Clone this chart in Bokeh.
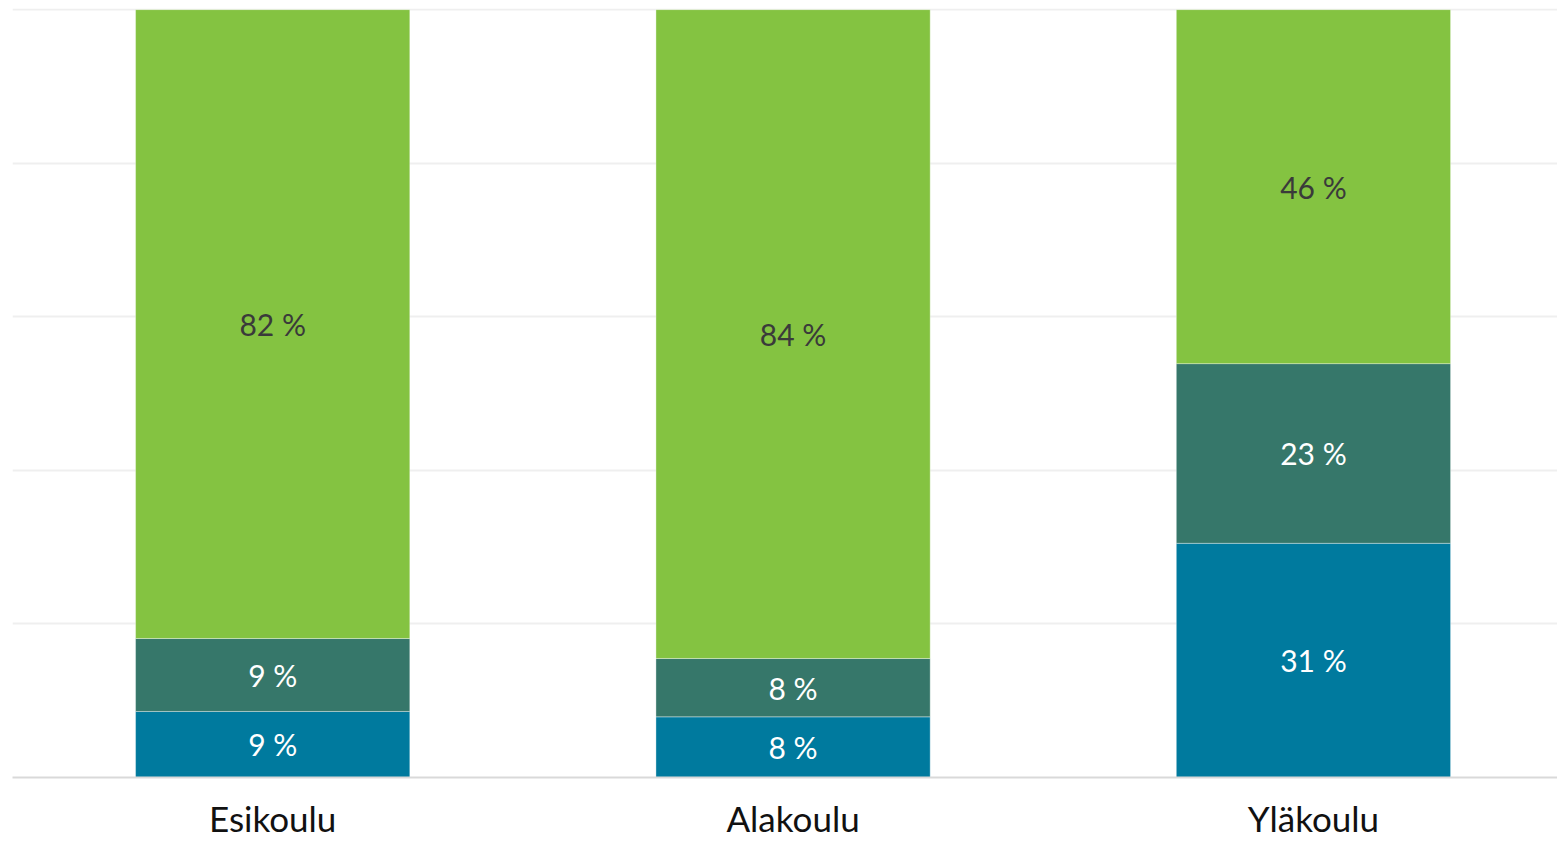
from bokeh.plotting import figure
from bokeh.models import ColumnDataSource, Range1d, FixedTicker
from bokeh.core.properties import value
from bokeh.embed import file_html
from bokeh.resources import INLINE

categories = ["Esikoulu", "Alakoulu", "Yläkoulu"]
series_names = ["s1", "s2", "s3"]
s1 = [8.6, 7.9, 30.5]
s2 = [9.5, 7.6, 23.4]
s3 = [81.9, 84.5, 46.1]
s1_labels = ["9 %", "8 %", "31 %"]
s2_labels = ["9 %", "8 %", "23 %"]
s3_labels = ["82 %", "84 %", "46 %"]
colors = ["#007A9E", "#36776A", "#84C341"]
text_colors = ["#FFFFFF", "#FFFFFF", "#3A3A3A"]

xs = list(range(len(categories)))
FONT = "Lato"

p = figure(width=1557, height=841, output_backend="svg", toolbar_location=None,
           x_range=Range1d(-0.5, 2.469), y_range=Range1d(0, 100.15),
           y_axis_location=None, min_border_left=12, min_border_right=0,
           min_border_top=8, min_border_bottom=0)
p.outline_line_color = None
p.background_fill_color = "white"

p.ygrid.ticker = FixedTicker(ticks=[0, 20, 40, 60, 80, 100])
p.ygrid.grid_line_color = "#EFEFEF"
p.ygrid.grid_line_width = 2
p.xgrid.grid_line_color = None

src = ColumnDataSource(dict(x=xs, s1=s1, s2=s2, s3=s3))
p.vbar_stack(series_names, x="x", width=0.527, source=src, color=colors,
             line_color="#FFFFFF", line_alpha=0.35, line_width=1)

label_sets = [s1_labels, s2_labels, s3_labels]
series_vals = [s1, s2, s3]
bottoms = [0.0] * len(categories)
for vals, labs, tc in zip(series_vals, label_sets, text_colors):
    ys = [b + v / 2 for b, v in zip(bottoms, vals)]
    ts = ColumnDataSource(dict(x=xs, y=ys, t=labs))
    p.text(x="x", y="y", text="t", source=ts, text_align="center", text_baseline="middle",
           text_color=tc, text_font=value(FONT), text_font_size="30px")
    bottoms = [b + v for b, v in zip(bottoms, vals)]

p.xaxis.ticker = FixedTicker(ticks=xs)
p.xaxis.major_label_overrides = {i: c for i, c in enumerate(categories)}
p.xaxis.axis_line_color = "#D9D9D9"
p.xaxis.axis_line_width = 2
p.xaxis.major_tick_line_color = None
p.xaxis.minor_tick_line_color = None
p.xaxis.major_label_text_font = FONT
p.xaxis.major_label_text_font_size = "35px"
p.xaxis.major_label_text_color = "#111111"
p.xaxis.major_label_standoff = 13

open("out.html", "w").write(file_html(p, INLINE))
